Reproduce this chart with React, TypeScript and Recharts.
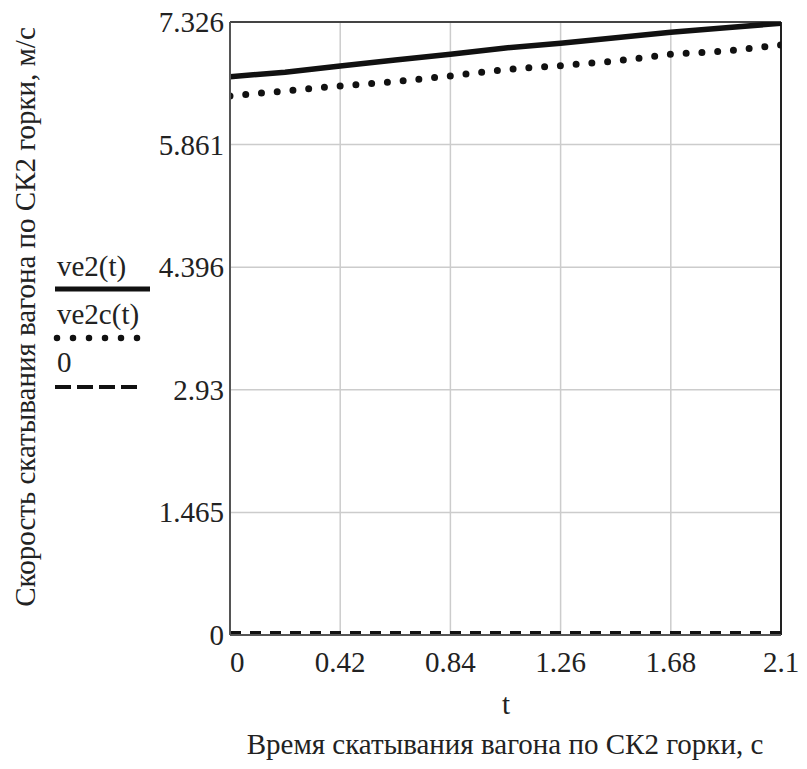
import { CartesianGrid, Label, Legend, Line, LineChart, ReferenceLine, XAxis, YAxis } from "recharts";

const T_VALUES = [0, 0.21, 0.42, 0.63, 0.84, 1.05, 1.26, 1.47, 1.68, 1.89, 2.1];
const VE2 = [6.673, 6.725, 6.8, 6.872, 6.94, 7.016, 7.072, 7.139, 7.203, 7.258, 7.311];
const VE2C = [6.442, 6.502, 6.562, 6.613, 6.681, 6.759, 6.804, 6.86, 6.94, 6.98, 7.051];
const ZERO = [0, 0, 0, 0, 0, 0, 0, 0, 0, 0, 0];

const X_TICKS = [0, 0.42, 0.84, 1.26, 1.68, 2.1];
const Y_TICKS = [0, 1.465, 2.93, 4.396, 5.861, 7.326];
const X_MAX = 2.1;
const Y_MAX = 7.326;

const data = T_VALUES.map((t, i) => ({ t, ve2: VE2[i], ve2c: VE2C[i], zero: ZERO[i] }));

const FONT = "'Liberation Serif', 'DejaVu Serif', serif";
const INK = "#222";
const FS = 29;
const txt = { fontFamily: FONT };

function XTick(props: any) {
  const { x, payload, index } = props;
  return (
    <text x={x} y={672} textAnchor={index === 0 ? "start" : "middle"} style={txt} fontSize={FS} fill={INK}>
      {payload.value}
    </text>
  );
}

function YTick(props: any) {
  const { x, y, payload } = props;
  return (
    <text x={x + 2} y={y + 10} textAnchor="end" style={txt} fontSize={FS} fill={INK}>
      {payload.value}
    </text>
  );
}

function LegendBox() {
  return (
    <svg width={200} height={420} style={{ display: "block" }}>
      <g style={txt} fontSize={FS} fill={INK}>
        <text x={57} y={276}>ve2(t)</text>
        <text x={57} y={324}>ve2c(t)</text>
        <text x={57} y={372}>0</text>
      </g>
      <line x1={55} x2={150} y1={289} y2={289} stroke="#111" strokeWidth={5} />
      <line x1={57} x2={140} y1={338} y2={338} stroke="#111" strokeWidth={6.5} strokeLinecap="round" strokeDasharray="0 16" />
      <line x1={55} x2={140} y1={387} y2={387} stroke="#111" strokeWidth={4} strokeDasharray="16 6" />
    </svg>
  );
}

export default function App() {
  return (
    <div style={{ position: "absolute", left: 0, top: 0, background: "#fff" }}>
      <LineChart width={807} height={769} data={data} margin={{ top: 22, right: 26, left: 0, bottom: 0 }}>
        <CartesianGrid stroke="#cccccc" strokeWidth={1.5} />
        <XAxis
          dataKey="t"
          type="number"
          domain={[0, X_MAX]}
          ticks={X_TICKS}
          tick={<XTick />}
          tickLine={false}
          axisLine={{ stroke: "#555", strokeWidth: 2 }}
          height={134}
          interval={0}
          allowDataOverflow
        >
          <Label
            content={() => (
              <g style={txt} fill={INK}>
                <text x={506} y={714} textAnchor="middle" fontSize={FS}>t</text>
                <text x={505} y={754} textAnchor="middle" fontSize={FS}>Время скатывания вагона по СК2 горки, с</text>
              </g>
            )}
          />
        </XAxis>
        <YAxis
          type="number"
          domain={[0, Y_MAX]}
          ticks={Y_TICKS}
          tick={<YTick />}
          tickLine={false}
          axisLine={{ stroke: "#555", strokeWidth: 2 }}
          width={230}
          interval={0}
          allowDataOverflow
        >
          <Label
            content={() => (
              <text
                x={35}
                y={317}
                transform="rotate(-90 35 317)"
                textAnchor="middle"
                style={txt}
                fontSize={FS}
                fill={INK}
              >
                Скорость скатывания вагона по СК2 горки, м/с
              </text>
            )}
          />
        </YAxis>
        <ReferenceLine y={Y_MAX} stroke="#444" strokeWidth={2} />
        <ReferenceLine x={X_MAX} stroke="#222" strokeWidth={2} />
        <Legend
          layout="vertical"
          align="center"
          verticalAlign="middle"
          content={() => <LegendBox />}
          wrapperStyle={{ left: 0, top: 0, width: 200, height: 420 }}
        />
        <Line dataKey="zero" stroke="#111" strokeWidth={8} strokeDasharray="11 9" dot={false} isAnimationActive={false} />
        <Line dataKey="ve2c" stroke="#111" strokeWidth={7} strokeLinecap="round" strokeDasharray="0 15.8" dot={false} isAnimationActive={false} />
        <Line dataKey="ve2" stroke="#111" strokeWidth={5.5} dot={false} isAnimationActive={false} />
      </LineChart>
    </div>
  );
}
